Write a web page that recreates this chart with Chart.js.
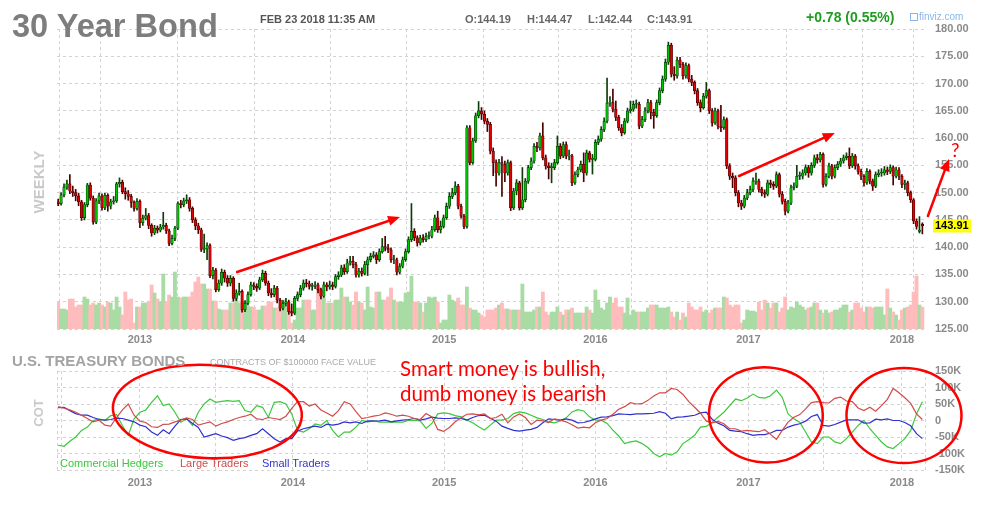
<!DOCTYPE html>
<html><head><meta charset="utf-8">
<script src="https://cdn.jsdelivr.net/npm/chart.js@4.4.0/dist/chart.umd.min.js"></script>
<style>
html,body{margin:0;padding:0;background:#fff;}
#wrap{position:relative;width:997px;height:505px;overflow:hidden;font-family:"Liberation Sans",Arial,sans-serif;}
canvas{position:absolute;left:0;}
#c1{top:0;} #c2{top:340px;}
.t{position:absolute;white-space:nowrap;}
.rot{position:absolute;white-space:nowrap;transform:translate(-50%,-50%) rotate(-90deg);font-weight:bold;color:#c9c9c9;}
.hand{position:absolute;white-space:nowrap;font-family:Lato,"Open Sans",sans-serif;color:#ff0000;}
</style></head><body>
<div id="wrap">
<canvas id="c1"></canvas>
<canvas id="c2"></canvas>
<div class="t" style="left:12px;top:9.5px;font-size:32.6px;line-height:32.6px;font-weight:bold;color:#7d7d7d;">30 Year Bond</div>
<div class="t" style="left:260px;top:13.7px;font-size:11px;line-height:11px;font-weight:bold;color:#555;">FEB 23 2018 11:35 AM</div>
<div class="t" style="left:465px;top:13.7px;font-size:11px;line-height:11px;font-weight:bold;color:#666;">O:144.19</div>
<div class="t" style="left:527px;top:13.7px;font-size:11px;line-height:11px;font-weight:bold;color:#666;">H:144.47</div>
<div class="t" style="left:588px;top:13.7px;font-size:11px;line-height:11px;font-weight:bold;color:#666;">L:142.44</div>
<div class="t" style="left:647px;top:13.7px;font-size:11px;line-height:11px;font-weight:bold;color:#666;">C:143.91</div>
<div class="t" style="left:806px;top:10.2px;font-size:14px;line-height:14px;font-weight:bold;color:#1e9e1e;">+0.78 (0.55%)</div>
<div class="t" style="left:910px;top:13px;width:6px;height:6px;border:1px solid #8ab8e6;"></div>
<div class="t" style="left:919px;top:11.5px;font-size:10px;line-height:10px;color:#8ab8e6;">finviz.com</div>
<div class="rot" style="left:37.5px;top:182px;font-size:15px;line-height:15px;">WEEKLY</div>
<div class="t" style="left:12px;top:353.3px;font-size:15px;line-height:15px;font-weight:bold;color:#a3a3a3;">U.S. TREASURY BONDS</div>
<div class="t" style="left:210px;top:358.4px;font-size:9px;line-height:9px;color:#a9a9a9;">CONTRACTS OF $100000 FACE VALUE</div>
<div class="rot" style="left:37.5px;top:413px;font-size:13px;line-height:13px;">COT</div>
<div class="t" style="left:60px;top:457.5px;font-size:11px;line-height:11px;color:#3cc83c;">Commercial Hedgers</div>
<div class="t" style="left:180px;top:457.5px;font-size:11px;line-height:11px;color:#d24b4b;">Large Traders</div>
<div class="t" style="left:262px;top:457.5px;font-size:11px;line-height:11px;color:#3434cc;">Small Traders</div>
<div class="hand" style="left:400px;top:356.3px;font-size:20.5px;line-height:25px;">Smart money is bullish,<br>dumb money is bearish</div>
<div class="hand" style="left:951px;top:140px;font-size:19px;line-height:19px;">?</div>
</div>
<script>
// ---------------- DATA ----------------
const openP = [148.3,148.0,149.6,151.0,151.6,150.3,150.0,149.4,148.3,145.4,
147.8,151.4,149.0,144.6,148.5,149.4,147.2,149.5,147.5,148.3,
148.5,151.6,151.9,150.2,149.8,149.3,148.2,147.1,148.4,144.5,
145.3,145.8,144.0,142.6,143.5,143.1,143.7,144.0,143.0,140.7,
141.6,143.5,148.0,147.8,148.5,148.7,147.1,145.0,143.9,143.2,
139.6,139.7,140.3,134.8,135.8,132.2,133.4,135.4,134.3,133.4,
134.3,130.6,131.6,131.9,128.5,129.7,131.3,133.1,132.8,132.5,
134.0,135.2,133.4,131.6,131.3,132.5,130.3,128.8,129.7,130.0,
128.2,127.9,130.6,131.3,132.5,133.4,133.3,132.8,132.8,133.1,
132.2,131.0,133.1,132.7,133.1,132.8,134.6,134.9,136.2,135.5,
137.1,137.4,136.8,134.9,135.6,135.2,136.8,137.7,138.3,138.6,
137.7,139.2,140.1,139.8,139.5,137.7,137.7,135.4,136.5,137.7,
139.2,141.4,142.9,141.7,140.8,141.7,141.4,142.0,142.0,143.2,
145.4,143.2,143.8,145.4,147.5,149.3,150.0,151.2,147.5,145.7,
143.8,161.9,155.5,159.5,164.1,165.0,164.4,163.1,162.5,157.6,
155.5,153.6,155.5,155.2,153.6,155.5,147.2,150.3,151.8,147.2,
148.7,152.1,154.6,155.8,158.5,158.2,160.4,156.4,154.9,154.6,
154.6,155.5,158.5,156.7,158.8,156.7,156.7,151.8,153.3,154.2,
155.2,153.6,157.3,156.1,156.1,159.2,159.8,161.6,163.1,166.4,
166.5,165.3,163.8,161.9,161.0,163.1,165.0,165.3,166.2,166.2,
162.2,163.4,165.0,166.5,164.7,164.1,166.5,168.7,170.8,173.9,
177.0,171.7,171.4,174.3,173.5,171.4,173.3,170.8,170.2,168.7,
166.5,165.6,167.7,168.7,165.0,162.8,165.0,162.2,161.9,163.4,
154.9,153.0,152.7,150.0,148.1,147.5,149.0,150.0,150.6,152.1,
152.1,150.6,150.0,149.7,151.8,151.5,151.2,153.3,149.7,148.4,
146.6,148.1,150.9,151.2,153.0,153.0,153.6,154.6,153.6,155.0,
156.4,156.0,157.0,151.5,153.0,154.9,153.0,154.6,155.2,155.8,
156.4,156.7,154.9,156.7,154.9,153.9,153.0,151.8,153.9,152.1,
151.2,153.3,153.6,153.6,154.2,153.9,154.6,153.0,154.2,153.0,
151.5,151.8,150.0,148.7,144.8,142.9,144.19];
const closeP = [148.0,149.6,151.0,151.6,150.3,150.0,149.4,148.3,145.4,147.8,
151.4,149.0,144.6,148.5,149.4,147.2,149.5,147.5,148.3,148.5,
151.6,151.9,150.2,149.8,149.3,148.2,147.1,148.4,144.5,145.3,
145.8,144.0,142.6,143.5,143.1,143.7,144.0,143.0,140.7,141.6,
143.5,148.0,147.8,148.5,148.7,147.1,145.0,143.9,143.2,139.6,
139.7,140.3,134.8,135.8,132.2,133.4,135.4,134.3,133.4,134.3,
130.6,131.6,131.9,128.5,129.7,131.3,133.1,132.8,132.5,134.0,
135.2,133.4,131.6,131.3,132.5,130.3,128.8,129.7,130.0,128.2,
127.9,130.6,131.3,132.5,133.4,133.3,132.8,132.8,133.1,132.2,
131.0,133.1,132.7,133.1,132.8,134.6,134.9,136.2,135.5,137.1,
137.4,136.8,134.9,135.6,135.2,136.8,137.7,138.3,138.6,137.7,
139.2,140.1,139.8,139.5,137.7,137.7,135.4,136.5,137.7,139.2,
141.4,142.9,141.7,140.8,141.7,141.4,142.0,142.0,143.2,145.4,
143.2,143.8,145.4,147.5,149.3,150.0,151.2,147.5,145.7,143.8,
161.9,155.5,159.5,164.1,165.0,164.4,163.1,162.5,157.6,155.5,
153.6,155.5,155.2,153.6,155.5,147.2,150.3,151.8,147.2,148.7,
152.1,154.6,155.8,158.5,158.2,160.4,156.4,154.9,154.6,154.6,
155.5,158.5,156.7,158.8,156.7,156.7,151.8,153.3,154.2,155.2,
153.6,157.3,156.1,156.1,159.2,159.8,161.6,163.1,166.4,166.5,
165.3,163.8,161.9,161.0,163.1,165.0,165.3,166.2,166.2,162.2,
163.4,165.0,166.5,164.7,164.1,166.5,168.7,170.8,173.9,177.0,
171.7,171.4,174.3,173.5,171.4,173.3,170.8,170.2,168.7,166.5,
165.6,167.7,168.7,165.0,162.8,165.0,162.2,161.9,163.4,154.9,
153.0,152.7,150.0,148.1,147.5,149.0,150.0,150.6,152.1,152.1,
150.6,150.0,149.7,151.8,151.5,151.2,153.3,149.7,148.4,146.6,
148.1,150.9,151.2,153.0,153.0,153.6,154.6,153.6,155.0,156.4,
156.0,157.0,151.5,153.0,154.9,153.0,154.6,155.2,155.8,156.4,
156.7,154.9,156.7,154.9,153.9,153.0,151.8,153.9,152.1,151.2,
153.3,153.6,153.6,154.2,153.9,154.6,153.0,154.2,153.0,151.5,
151.8,150.0,148.7,144.8,143.8,143.13,143.91];
const highP = [148.8,150.0,151.6,152.3,153.3,151.2,150.6,149.9,148.6,148.2,
151.7,151.8,149.4,148.9,149.9,149.8,149.9,149.8,148.8,149.3,
151.9,152.7,152.3,150.9,150.4,149.7,148.5,148.9,148.7,145.9,
147.1,146.2,144.3,144.0,143.9,144.2,146.4,144.4,143.3,142.2,
143.8,148.3,148.6,149.0,149.6,149.1,147.4,145.4,144.4,143.5,
142.4,140.8,140.6,136.3,136.1,134.0,136.0,135.8,134.8,134.8,
134.6,132.2,133.4,132.2,130.2,131.8,133.6,133.5,133.3,134.5,
135.8,135.6,133.8,132.4,133.0,132.8,130.6,130.2,130.6,130.3,
129.6,131.0,131.8,133.0,134.0,134.1,133.8,133.4,133.7,133.4,
132.5,133.6,133.5,133.8,133.6,135.0,135.5,136.7,136.8,137.8,
138.3,138.3,137.2,136.1,136.2,137.4,138.2,138.9,139.2,139.0,
139.7,141.6,142.0,140.5,139.9,138.5,138.0,137.0,138.2,139.7,
141.9,148.0,143.4,142.1,142.2,142.3,142.6,142.8,143.8,145.9,
146.6,144.8,145.9,148.1,150.0,150.8,152.0,151.5,147.9,146.0,
162.3,162.3,160.0,164.6,166.7,165.6,165.0,163.6,162.9,158.2,
156.0,156.1,156.6,155.8,156.0,155.8,150.8,152.4,152.1,154.6,
152.6,155.0,156.4,159.0,159.2,160.9,162.8,156.9,155.5,155.4,
156.1,160.4,159.0,159.3,159.3,157.8,157.0,153.8,154.7,155.8,
157.3,157.8,157.6,157.0,159.7,160.4,162.1,163.7,171.0,167.6,
169.0,166.8,164.2,162.5,163.6,165.5,166.8,166.8,167.0,166.6,
164.0,165.6,167.1,166.9,165.3,167.0,169.2,171.4,174.5,177.6,
177.4,173.1,174.8,174.8,173.9,173.8,173.6,171.5,170.5,169.1,
167.0,168.2,170.2,169.0,165.4,165.5,165.3,166.0,163.9,163.7,
155.3,153.6,153.1,150.4,148.6,149.5,150.6,151.2,152.7,153.6,
152.5,151.0,150.5,152.3,152.3,152.0,153.8,153.6,150.2,148.8,
148.6,151.4,151.8,155.0,153.8,154.2,155.1,155.0,155.5,156.9,
157.0,157.4,157.3,153.5,155.4,155.2,155.1,155.7,156.3,156.9,
157.3,158.2,157.2,157.0,155.3,154.3,153.3,154.4,154.2,152.5,
153.8,154.2,154.4,154.8,154.7,155.1,154.9,154.7,154.6,153.3,
152.3,152.1,150.3,148.9,145.2,145.6,144.47];
const lowP = [147.6,147.7,149.2,150.6,149.8,149.3,148.5,147.6,144.9,145.0,
147.4,148.6,144.2,144.3,148.0,146.8,146.9,146.6,147.0,147.9,
148.2,151.0,149.8,148.8,148.6,147.3,146.6,146.8,143.6,144.0,
145.0,143.4,142.0,142.3,142.6,142.8,143.3,142.5,140.3,140.4,
141.2,143.2,147.2,147.4,148.0,146.6,144.5,143.2,142.5,139.2,
139.0,137.7,134.4,134.2,131.8,131.9,133.0,133.6,132.8,132.9,
130.1,130.2,131.2,128.1,128.2,129.4,131.0,132.2,131.9,132.2,
133.7,133.0,131.1,130.8,130.9,129.8,128.3,128.5,129.2,127.7,
127.4,127.6,130.2,130.9,132.1,132.7,132.3,132.1,132.4,131.6,
130.5,130.8,132.0,132.3,132.2,132.5,134.1,134.6,135.0,135.2,
136.7,136.2,134.5,134.5,134.7,134.9,134.8,137.3,138.0,137.0,
137.4,138.9,139.3,139.0,137.2,137.0,134.9,135.1,136.2,137.4,
138.9,141.0,141.2,140.2,140.4,140.9,141.0,141.5,141.7,142.9,
142.7,142.6,143.5,145.1,147.1,148.9,149.6,147.0,145.3,143.4,
143.5,155.1,155.2,159.2,163.7,163.4,162.6,161.2,157.1,153.1,
151.2,153.2,149.3,152.0,153.2,146.7,146.9,149.6,146.8,146.9,
148.3,151.7,154.2,155.4,157.5,157.8,156.0,154.3,152.5,151.8,
154.2,155.2,156.2,156.4,156.2,156.0,151.3,151.5,152.9,153.8,
152.0,153.2,155.6,153.4,155.8,158.8,159.4,161.2,162.8,165.8,
164.8,163.2,161.4,160.4,160.7,162.8,164.6,164.9,165.5,161.7,
161.9,163.0,164.6,163.5,161.8,163.8,166.1,168.3,170.4,173.5,
171.2,170.6,171.0,172.9,170.8,171.0,170.3,169.6,168.1,166.0,
164.8,165.3,167.3,164.5,162.2,162.5,161.7,161.2,161.6,154.4,
152.4,150.9,149.4,147.4,146.9,147.2,148.7,149.6,150.2,151.5,
150.1,149.4,149.1,149.4,150.9,150.6,150.9,149.2,147.9,145.9,
146.3,147.8,150.5,150.9,152.4,152.5,153.2,152.8,153.2,154.6,
155.4,155.6,151.0,151.2,152.7,152.5,152.7,154.2,154.8,155.4,
156.0,154.4,154.6,154.3,153.4,152.4,151.2,151.5,151.6,150.4,
150.9,152.9,153.0,153.2,153.3,153.5,151.4,152.7,152.4,150.9,
150.6,149.4,148.2,144.3,143.3,142.6,142.44];
// weekly volume, thousands of contracts
const volumeK = [810,600,600,570,900,900,660,720,720,960,
900,720,780,720,780,720,660,810,780,570,
960,660,420,1110,870,900,180,660,660,780,
780,810,1320,1080,900,810,1650,810,1020,960,
1710,960,930,960,960,960,1110,1410,1560,1350,
1350,1200,1200,840,840,600,570,570,570,780,
780,900,780,810,810,690,660,660,570,570,
690,690,810,810,630,630,630,870,660,660,
180,270,630,630,870,870,870,570,570,1230,
1170,930,780,780,780,870,870,1230,960,960,
810,720,1110,810,780,570,1260,660,630,1110,
1110,870,870,960,1230,870,810,810,810,1080,
1110,1590,810,810,780,510,780,960,930,960,
810,180,270,270,1020,870,810,930,720,720,
1260,630,570,570,480,420,360,570,570,570,
630,720,780,600,600,570,570,570,570,1350,
510,510,510,570,660,660,1110,510,420,510,
510,660,510,420,570,570,630,480,480,480,
480,660,570,480,1170,870,630,570,780,960,
780,930,660,660,480,930,420,570,510,510,
510,510,630,720,720,720,630,630,630,660,
510,360,510,270,480,360,780,660,570,570,
660,510,570,480,570,630,630,630,960,930,
720,660,720,720,180,270,570,540,540,510,
810,570,870,780,630,780,780,510,630,960,
570,660,630,810,720,660,570,630,660,780,
780,570,480,570,480,510,570,570,630,720,
720,510,570,780,780,630,510,660,660,630,
660,660,660,420,1200,630,510,420,270,570,
630,660,720,1110,1590,720,660];
const lastPrice = 143.91;

// week index (0 = week of 18 Jun 2012) of the grid lines and their labels
const xGridWeeks  = [-0.4, 1, 28, 54, 80.4, 106.1, 132.2, 158.9, 184, 208.5, 236.4, 262.3, 289, 296.9];
const xGridLabels = ['', '', '2013', '', '2014', '', '2015', '', '2016', '', '2017', '', '2018', ''];

// COT net positions (thousands of contracts), sampled every 2 weeks
const cotWeeks = [0,2,4,6,8,10,12,14,16,18,20,22,24,26,28,30,32,34,36,38,40,42,44,46,48,50,52,54,56,58,
60,62,64,66,68,70,72,74,76,78,80,82,84,86,88,90,92,94,96,98,100,102,104,106,108,110,112,114,116,118,
120,122,124,126,128,130,132,134,136,138,140,142,144,146,148,150,152,154,156,158,160,162,164,166,168,170,172,174,176,178,
180,182,184,186,188,190,192,194,196,198,200,202,204,206,208,210,212,214,216,218,220,222,224,226,228,230,232,234,236,238,
240,242,244,246,248,250,252,254,256,258,260,262,264,266,268,270,272,274,276,278,280,282,284,286,288,290,292,294,296];
const hedgersK = [-75,-78,-63,-50,-30,-20,0,5,0,15,
18,-15,-45,5,25,32,55,75,45,50,
25,-5,5,-15,25,50,65,55,58,60,
58,60,30,25,45,40,10,55,57,50,
20,-30,-35,-25,-10,-15,0,-30,-50,-35,
-35,-20,0,-5,0,-5,-5,-5,-5,-5,
0,0,-1,-24,-9,20,23,21,15,11,
1,-7,-19,-29,-14,1,
1,6,21,26,23,16,8,3,-4,-7,
-1,8,26,33,29,11,1,1,-9,-29,
-47,-70,-65,-62,-70,-82,-100,-110,-100,-105,
-95,-70,-58,-45,-20,-18,-5,10,25,45,
65,60,68,80,70,68,75,92,70,20,
5,-5,-35,-65,-70,-50,-50,-65,-70,-55,
-35,-15,0,-25,-45,-65,-80,-85,-70,-55,
-30,20,57];
const largeK = [42,37,32,25,16,6,-4,1,-14,-17,
9,32,50,16,-2,-6,-19,-21,-12,-11,
-4,1,8,3,-14,-9,-4,-17,-9,-4,
3,9,13,19,5,3,9,6,3,13,
37,57,57,44,50,32,23,13,30,57,
50,27,6,9,13,16,23,19,13,16,
13,6,3,21,11,-27,-33,-21,-4,8,
19,20,17,20,6,9,
19,-7,11,20,9,-12,1,-1,-6,5,
1,-4,-13,-23,-20,-22,-7,1,6,19,
34,42,54,50,51,61,74,84,84,97,
94,79,57,40,22,-2,-7,-3,-10,-25,
-25,-32,-30,-32,-34,-28,-42,-57,-30,-5,
10,18,35,54,57,54,53,67,71,59,
57,38,30,40,28,45,64,97,84,69,
52,20,3];
const smallK = [39,40,30,21,16,16,9,3,1,3,
7,6,1,-4,-14,-19,-35,-45,-28,-40,
-17,3,5,-9,-21,-50,-45,-40,-47,-52,
-60,-55,-52,-45,-40,-25,-40,-55,-65,-55,
-55,-32,-25,-21,-17,-21,-11,-14,-11,-4,
-7,-4,-9,-1,-2,-1,1,-4,-1,1,
3,6,1,5,10,7,6,6,8,6,
1,9,15,16,7,-2,
-17,-24,-30,-32,-29,-27,-21,-7,5,3,
1,5,1,-7,-6,-1,5,10,11,15,
20,19,18,20,20,21,22,27,22,5,
10,11,13,16,23,25,4,-8,-16,-30,
-32,-34,-40,-45,-43,-43,-38,-30,-30,-20,
-14,-10,-2,12,18,-15,-17,-12,-5,2,
2,2,-8,-7,4,2,5,0,0,-6,
-16,-40,-55];

// ---------------- STYLE ----------------
Chart.defaults.font.family = '"Liberation Sans", Arial, sans-serif';
const GRID = '#d2d2d2';
const TICK = '#8a8a8a';
const upFill = '#00c200', dnFill = '#e00000';
const upEdge = '#0a3f0a', dnEdge = '#4d0000';
const upVol = '#a9dca4', dnVol = '#ffbcbc';
const isUp = closeP.map((c, i) => c >= openP[i]);

function xScale(heightFn, padBottom) {
  return {
    type: 'linear', min: -0.4, max: 296.9, offset: false,
    afterBuildTicks: s => { s.ticks = xGridWeeks.map(v => ({ value: v })); },
    afterFit: s => { s.height = heightFn; },
    ticks: { autoSkip: false, maxRotation: 0, padding: padBottom, color: TICK,
             font: { size: 11, weight: 'bold' }, callback: (v, i) => xGridLabels[i] },
    grid: { color: GRID, drawTicks: false, lineWidth: 1 },
    border: { display: false, dash: [3, 3] }
  };
}

function drawArrow(c, x1, y1, x2, y2) {
  const a = Math.atan2(y2 - y1, x2 - x1), L = 12, W = 5;
  c.beginPath(); c.moveTo(x1, y1); c.lineTo(x2 - Math.cos(a) * L * 0.7, y2 - Math.sin(a) * L * 0.7); c.stroke();
  c.beginPath();
  c.moveTo(x2, y2);
  c.lineTo(x2 - Math.cos(a) * L - Math.sin(a) * W, y2 - Math.sin(a) * L + Math.cos(a) * W);
  c.lineTo(x2 - Math.cos(a) * L + Math.sin(a) * W, y2 - Math.sin(a) * L - Math.cos(a) * W);
  c.closePath(); c.fill();
}

// hand-drawn annotations, in data units (week, price) / (week, K)
const arrowsPrice = [[61.3, 135.45, 117.1, 145.53], [233.2, 153.05, 266.0, 160.93], [297.9, 145.72, 305.1, 156.17]];
const ellipsesCot = [[51.1, 27, 32.4, 141, 0.05], [242.4, 17, 19.5, 144, 0.07], [289.7, 15, 19.7, 144, 0]];

const annotPrice = {
  id: 'annotPrice',
  afterDraw(chart) {
    const c = chart.ctx, xs = chart.scales.x, ys = chart.scales.y;
    c.save();
    c.strokeStyle = '#ff0000'; c.fillStyle = '#ff0000'; c.lineWidth = 2.5; c.lineCap = 'round';
    arrowsPrice.forEach(a => drawArrow(c, xs.getPixelForValue(a[0]), ys.getPixelForValue(a[1]),
                                          xs.getPixelForValue(a[2]), ys.getPixelForValue(a[3])));
    const yp = ys.getPixelForValue(lastPrice);
    c.fillStyle = '#ffff00';
    c.fillRect(xs.right + 8, Math.round(yp) - 6.5, 38, 13);
    c.fillStyle = '#000';
    c.font = 'bold 11px "Liberation Sans", Arial';
    c.textBaseline = 'middle'; c.textAlign = 'left';
    c.fillText(lastPrice.toFixed(2), xs.right + 10, yp + 0.5);
    c.restore();
  }
};

const annotCot = {
  id: 'annotCot',
  afterDraw(chart) {
    const c = chart.ctx, xs = chart.scales.x, ys = chart.scales.y;
    c.save();
    c.strokeStyle = '#ff0000'; c.lineWidth = 2.5;
    ellipsesCot.forEach(e => {
      const cx = xs.getPixelForValue(e[0]), cy = ys.getPixelForValue(e[1]);
      const rx = xs.getPixelForValue(e[0] + e[2]) - cx, ry = cy - ys.getPixelForValue(e[1] + e[3]);
      c.beginPath(); c.ellipse(cx, cy, rx, ry, e[4], 0, Math.PI * 2); c.stroke();
    });
    c.restore();
  }
};

// ---------------- PRICE CHART ----------------
const cv1 = document.getElementById('c1');
cv1.width = 997; cv1.height = 350; cv1.style.width = '997px'; cv1.style.height = '350px';
new Chart(cv1, {
  type: 'bar',
  data: {
    datasets: [
      { label: 'Volume', yAxisID: 'yv', order: 3, grouped: false,
        data: volumeK.map((v, i) => ({ x: i, y: v })),
        backgroundColor: isUp.map(u => u ? upVol : dnVol),
        barThickness: 3.2, borderWidth: 0 },
      { label: 'Range', yAxisID: 'y', order: 2, grouped: false,
        data: highP.map((h, i) => ({ x: i, y: [lowP[i], h] })),
        backgroundColor: isUp.map(u => u ? upEdge : dnEdge),
        barThickness: 1, borderWidth: 0 },
      { label: 'Body', yAxisID: 'y', order: 1, grouped: false,
        data: closeP.map((cl, i) => ({ x: i, y: [openP[i], cl] })),
        backgroundColor: isUp.map(u => u ? upFill : dnFill),
        borderColor: isUp.map(u => u ? upEdge : dnEdge),
        borderWidth: 0.7, borderSkipped: false, barThickness: 2.6, minBarLength: 1 }
    ]
  },
  options: {
    responsive: false, animation: false, events: [],
    layout: { padding: { left: 57, top: 29, right: 0, bottom: 0 } },
    plugins: { legend: { display: false }, tooltip: { enabled: false } },
    scales: {
      x: xScale(21, 4),
      y: { position: 'right', min: 125, max: 180,
           afterFit: s => { s.width = 72; },
           ticks: { stepSize: 5, padding: 10, color: TICK, font: { size: 11, weight: 'bold' },
                    callback: v => v.toFixed(2) },
           grid: { color: GRID, drawTicks: false },
           border: { display: false, dash: [3, 3] } },
      yv: { display: false, min: 0, max: 9000 }
    }
  },
  plugins: [annotPrice]
});

// ---------------- COT CHART ----------------
const cv2 = document.getElementById('c2');
cv2.width = 997; cv2.height = 165; cv2.style.width = '997px'; cv2.style.height = '165px';
const line = (vals, color) => ({
  data: vals.map((v, i) => ({ x: cotWeeks[i], y: v })),
  borderColor: color, borderWidth: 1.2, pointRadius: 0, tension: 0, fill: false
});
new Chart(cv2, {
  type: 'line',
  data: { datasets: [ line(largeK, '#d24b4b'), line(smallK, '#3030d0'), line(hedgersK, '#3cc83c') ] },
  options: {
    responsive: false, animation: false, events: [],
    layout: { padding: { left: 57, top: 31, right: 0, bottom: 0 } },
    plugins: { legend: { display: false }, tooltip: { enabled: false } },
    scales: {
      x: xScale(35, 6),
      y: { position: 'right', min: -150, max: 150,
           afterFit: s => { s.width = 72; },
           ticks: { stepSize: 50, padding: 10, color: TICK, font: { size: 11, weight: 'bold' },
                    callback: v => v === 0 ? '0' : v + 'K' },
           grid: { color: GRID, drawTicks: false },
           border: { display: false, dash: [3, 3] } }
    }
  },
  plugins: [annotCot]
});
</script>
</body></html>
